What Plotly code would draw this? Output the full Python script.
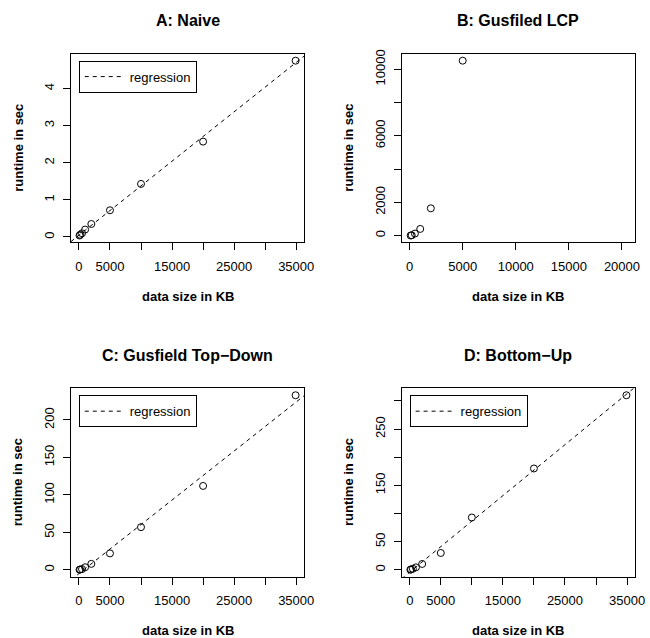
import numpy as np
import plotly.graph_objects as go

W, H = 650, 638

# ---------------- data ----------------
size_kb = [100, 200, 500, 1000, 2000, 5000, 10000, 20000, 34900]
naive_sec = [0.04, 0.06, 0.10, 0.20, 0.35, 0.72, 1.43, 2.57, 4.75]
lcp_sec = [5, 20, 120, 400, 1640, 10520, None, None, None]
topdown_sec = [0.2, 0.5, 1.0, 3.5, 8.0, 22, 57, 112, 233]
bottomup_sec = [0.3, 0.8, 2.0, 4.5, 10.5, 30, 93, 180, 310]

titles = ["A: Naive", "B: Gusfiled LCP", "C: Gusfield Top\u2212Down", "D: Bottom\u2212Up"]
x_title = "data size in KB"
y_title = "runtime in sec"
legend_label = "regression"

xticks_35k = [0, 5000, 10000, 15000, 20000, 25000, 30000, 35000]
xticklabels_35k = ["0", "5000", "", "15000", "", "25000", "", "35000"]
xticks_20k = [0, 5000, 10000, 15000, 20000]
xticklabels_20k = ["0", "5000", "10000", "15000", "20000"]
b_xlim = [-742, 21234]

yticks_a = [0, 1, 2, 3, 4]
yticklabels_a = ["0", "1", "2", "3", "4"]
yticks_b = [0, 2000, 4000, 6000, 8000, 10000]
yticklabels_b = ["0", "2000", "", "6000", "", "10000"]
yticks_c = [0, 50, 100, 150, 200]
yticklabels_c = ["0", "50", "100", "150", "200"]
yticks_d = [0, 50, 100, 150, 200, 250, 300]
yticklabels_d = ["0", "50", "", "150", "", "250", ""]

# ---------------- layout geometry (pixels) ----------------
boxes = {  # left, right, top, bottom
    "A": (72, 309, 50, 240),
    "B": (408, 645, 50, 240),
    "C": (72, 309, 386.7, 576.3),
    "D": (408, 645, 386.7, 576.3),
}
FONT = "Liberation Sans, Arial, Helvetica, sans-serif"


def rrange(vals):
    v = [a for a in vals if a is not None]
    lo, hi = min(v), max(v)
    pad = 0.04 * (hi - lo)
    return [lo - pad, hi + pad]


fig = go.Figure()

panels = [
    ("A", naive_sec, xticks_35k, xticklabels_35k, None, yticks_a, yticklabels_a, "legend"),
    ("B", lcp_sec, xticks_20k, xticklabels_20k, b_xlim, yticks_b, yticklabels_b, None),
    ("C", topdown_sec, xticks_35k, xticklabels_35k, None, yticks_c, yticklabels_c, "legend2"),
    ("D", bottomup_sec, xticks_35k, xticklabels_35k, None, yticks_d, yticklabels_d, "legend3"),
]

layout_axes = {}
annotations = []
legends = {}

for i, (key, ys, xt, xtl, xlim, yt, ytl, leg) in enumerate(panels):
    n = "" if i == 0 else str(i + 1)
    xa, ya = "x" + n, "y" + n
    l, r, t, b = boxes[key]
    xs_valid = [x for x, y in zip(size_kb, ys) if y is not None]
    ys_valid = [y for y in ys if y is not None]
    xr = xlim if xlim is not None else rrange(xs_valid)
    yr = rrange(ys_valid)

    fig.add_trace(go.Scatter(
        x=xs_valid, y=ys_valid, mode="markers", xaxis=xa, yaxis=ya,
        marker=dict(symbol="circle-open", size=7, color="black",
                    line=dict(width=1, color="black")),
        showlegend=False,
    ))

    if leg is not None:
        slope, intercept = np.polyfit(xs_valid, ys_valid, 1)
        lx = np.array(xr)
        fig.add_trace(go.Scatter(
            x=lx, y=slope * lx + intercept, mode="lines", xaxis=xa, yaxis=ya,
            line=dict(color="black", width=1, dash="4px,4px"),
            name=legend_label, showlegend=True, legend=leg,
        ))
        legends[leg] = dict(
            x=(l + 8) / W, y=1 - (t + 7) / H, xanchor="left", yanchor="top",
            bordercolor="black", borderwidth=1, bgcolor="white",
            font=dict(family=FONT, size=13, color="black"), itemwidth=40,
        )

    axis_common = dict(
        showline=True, linecolor="black", linewidth=1, mirror=True,
        ticks="outside", ticklen=7, tickcolor="black", tickwidth=1,
        showgrid=False, zeroline=False,
        tickfont=dict(family=FONT, size=13, color="black"),
    )
    layout_axes["xaxis" + n] = dict(
        axis_common, domain=[l / W, r / W], range=xr, anchor=ya,
        tickmode="array", tickvals=xt, ticktext=xtl, ticklabelstandoff=5,
    )
    layout_axes["yaxis" + n] = dict(
        axis_common, domain=[1 - b / H, 1 - t / H], range=yr, anchor=xa,
        tickmode="array", tickvals=yt, ticktext=ytl, tickangle=-90,
        ticklabelstandoff=4,
    )

    cx = (l + r) / 2
    annotations.append(dict(
        text="<b>%s</b>" % titles[i], x=cx / W, y=1 - (t - 33) / H,
        xref="paper", yref="paper", showarrow=False, xanchor="center",
        yanchor="middle", font=dict(family=FONT, size=16, color="black"),
    ))
    annotations.append(dict(
        text="<b>%s</b>" % x_title, x=cx / W, y=1 - (b + 54.5) / H,
        xref="paper", yref="paper", showarrow=False, xanchor="center",
        yanchor="middle", font=dict(family=FONT, size=13, color="black"),
    ))
    annotations.append(dict(
        text="<b>%s</b>" % y_title, x=(l - 54) / W, y=1 - ((t + b) / 2) / H,
        xref="paper", yref="paper", showarrow=False, xanchor="center",
        yanchor="middle", textangle=-90,
        font=dict(family=FONT, size=13, color="black"),
    ))

fig.update_layout(
    width=W, height=H, autosize=False,
    margin=dict(l=0, r=0, t=0, b=0),
    paper_bgcolor="white", plot_bgcolor="white",
    annotations=annotations,
    **layout_axes, **legends,
)

fig.write_html("out.html", post_script="document.body.style.margin='0';",
               config={"displayModeBar": False})
